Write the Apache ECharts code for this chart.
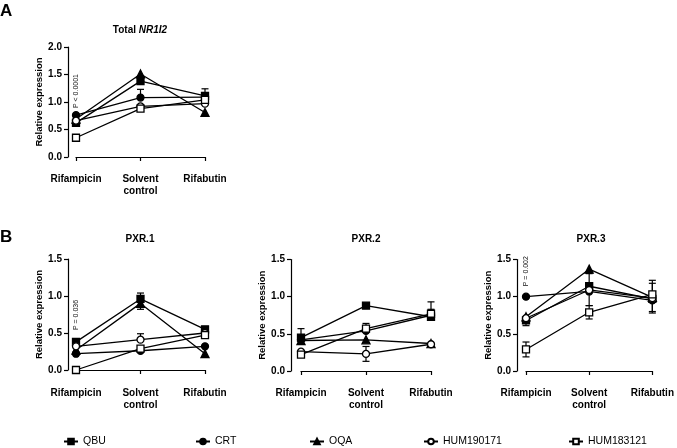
<!DOCTYPE html>
<html>
<head>
<meta charset="utf-8">
<script src="https://cdn.jsdelivr.net/npm/echarts@6/dist/echarts.min.js"></script>
<style>html,body{margin:0;padding:0;background:#fff;}#c{width:677px;height:448px;}</style>
</head>
<body>
<div id="c"></div>
<script>
// ---- data ----
const categories = ['Rifampicin', 'Solvent\ncontrol', 'Rifabutin'];
const seriesNames = ['QBU', 'CRT', 'OQA', 'HUM190171', 'HUM183121'];
const yTicksTotal = [0, 0.5, 1.0, 1.5, 2.0];
const yTicksPXR = [0, 0.5, 1.0, 1.5];

const totalQBU = [0.62, 1.38, 1.11];
const totalCRT = [0.76, 1.08, 1.09];
const totalOQA = [0.69, 1.51, 0.81];
const totalHUM190171 = [0.66, 0.92, 0.97];
const totalHUM183121 = [0.35, 0.88, 1.04];

const pxr1QBU = [0.38, 0.96, 0.55];
const pxr1CRT = [0.22, 0.26, 0.32];
const pxr1OQA = [0.27, 0.90, 0.22];
const pxr1HUM190171 = [0.32, 0.41, 0.50];
const pxr1HUM183121 = [0.00, 0.29, 0.47];

const pxr2QBU = [0.45, 0.88, 0.73];
const pxr2CRT = [0.42, 0.54, 0.75];
const pxr2OQA = [0.41, 0.42, 0.37];
const pxr2HUM190171 = [0.26, 0.23, 0.36];
const pxr2HUM183121 = [0.22, 0.57, 0.77];

const pxr3QBU = [0.68, 1.14, 0.97];
const pxr3CRT = [1.00, 1.07, 0.95];
const pxr3OQA = [0.73, 1.37, 0.99];
const pxr3HUM190171 = [0.71, 1.09, 0.98];
const pxr3HUM183121 = [0.29, 0.79, 1.03];

// error bars: [category index, from value, to value (capped end)]
const errTotal = [[1, 1.08, 1.23], [2, 1.11, 1.24]];
const errPXR1 = [[1, 0.96, 1.04], [1, 0.90, 0.82], [1, 0.41, 0.49]];
const errPXR2 = [[0, 0.45, 0.57], [1, 0.57, 0.64], [1, 0.23, 0.13], [1, 0.23, 0.33], [2, 0.77, 0.93], [2, 0.75, 0.83]];
const errPXR3 = [[0, 0.68, 0.61], [0, 0.29, 0.39], [0, 0.29, 0.19], [1, 1.14, 1.31], [1, 1.07, 0.88],
                 [1, 0.79, 0.88], [1, 0.79, 0.70], [2, 1.03, 1.22], [2, 0.99, 1.18], [2, 0.97, 0.80], [2, 0.95, 0.78]];

// p-value annotations: [text, start value at Rifampicin]
const pTotal = ['P < 0.0001', 0.89];
const pPXR1 = ['P = 0.036', 0.54];
const pPXR3 = ['P = 0.002', 1.14];

// ---- styling ----
const FONT = '"Liberation Sans", Arial, sans-serif';
const symbolStyles = {
  QBU: { symbol: 'rect', size: 7, fill: '#000' },
  CRT: { symbol: 'circle', size: 7, fill: '#000' },
  OQA: { symbol: 'triangle', size: 8, fill: '#000' },
  HUM190171: { symbol: 'circle', size: 7, fill: '#fff' },
  HUM183121: { symbol: 'rect', size: 7, fill: '#fff' }
};

const panels = [
  { grid: { left: 76, top: 47, width: 129, height: 110 }, yOff: 8, xOff: 9, max: 2, ticks: yTicksTotal,
    data: [totalQBU, totalCRT, totalOQA, totalHUM190171, totalHUM183121], err: errTotal, p: pTotal },
  { grid: { left: 76, top: 259, width: 129, height: 111 }, yOff: 8, xOff: 10, max: 1.5, ticks: yTicksPXR,
    data: [pxr1QBU, pxr1CRT, pxr1OQA, pxr1HUM190171, pxr1HUM183121], err: errPXR1, p: pPXR1 },
  { grid: { left: 301, top: 259.5, width: 130, height: 111.5 }, yOff: 10, xOff: 9, max: 1.5, ticks: yTicksPXR,
    data: [pxr2QBU, pxr2CRT, pxr2OQA, pxr2HUM190171, pxr2HUM183121], err: errPXR2, p: null },
  { grid: { left: 526, top: 259.5, width: 130, height: 111.5 }, yOff: 9, xOff: 9, max: 1.5, ticks: yTicksPXR,
    data: [pxr3QBU, pxr3CRT, pxr3OQA, pxr3HUM190171, pxr3HUM183121], err: errPXR3, p: pPXR3 }
];

function renderErr(params, api) {
  const x = api.value(0), a = api.value(1), b = api.value(2);
  const p0 = api.coord([x, a]);
  const p1 = api.coord([x, b]);
  const st = { stroke: '#000', lineWidth: 1.2 };
  return { type: 'group', children: [
    { type: 'line', shape: { x1: p0[0], y1: p0[1], x2: p1[0], y2: p1[1] }, style: st },
    { type: 'line', shape: { x1: p1[0] - 3.5, y1: p1[1], x2: p1[0] + 3.5, y2: p1[1] }, style: st }
  ] };
}

const grids = [], xAxes = [], yAxes = [], series = [];
panels.forEach((pn, i) => {
  grids.push(Object.assign({ containLabel: false }, pn.grid));
  xAxes.push({
    type: 'category', gridIndex: i, data: categories, boundaryGap: false, offset: pn.xOff,
    axisLine: { lineStyle: { color: '#000', width: 1.2 } },
    axisTick: { length: 4, lineStyle: { color: '#000', width: 1.2 } },
    axisLabel: { color: '#000', fontWeight: 'bold', fontSize: 10, fontFamily: FONT, margin: 7, lineHeight: 12, interval: 0 },
    splitLine: { show: false }
  });
  yAxes.push({
    type: 'value', gridIndex: i, min: 0, max: pn.max, interval: 0.5, offset: pn.yOff,
    name: 'Relative expression', nameLocation: 'middle', nameGap: 18,
    nameTextStyle: { color: '#000', fontWeight: 'bold', fontSize: 9.5, fontFamily: FONT },
    axisLine: { show: true, lineStyle: { color: '#000', width: 1.2 } },
    axisTick: { show: true, length: 4, lineStyle: { color: '#000', width: 1.2 } },
    axisLabel: { color: '#000', fontWeight: 'bold', fontSize: 10, fontFamily: FONT, margin: 6,
                 formatter: v => v.toFixed(1) },
    splitLine: { show: false }
  });
  seriesNames.forEach((nm, k) => {
    const s = symbolStyles[nm];
    const ser = {
      type: 'line', name: nm, xAxisIndex: i, yAxisIndex: i, data: pn.data[k],
      symbol: s.symbol, symbolSize: s.size, showAllSymbol: true,
      lineStyle: { color: '#000', width: 1.3 },
      itemStyle: { color: s.fill, borderColor: '#000', borderWidth: 1.3 },
      emphasis: { disabled: true }, animation: false, z: 3
    };
    if (k === 0 && pn.p) {
      ser.markPoint = {
        symbol: 'circle', symbolSize: 0, silent: true, animation: false,
        itemStyle: { color: 'transparent', borderWidth: 0 },
        data: [{ coord: [0, pn.p[1]], value: 0 }],
        label: { show: true, formatter: pn.p[0], rotate: 90, position: 'inside', align: 'left',
                 verticalAlign: 'middle', color: '#111', fontSize: 7, fontFamily: FONT }
      };
    }
    series.push(ser);
  });
  series.push({
    type: 'custom', name: 'err' + i, xAxisIndex: i, yAxisIndex: i, data: pn.err,
    renderItem: renderErr, encode: { x: 0, y: [1, 2] }, z: 2, silent: true, animation: false, clip: false
  });
});

const legendCenters = [70, 202, 316, 430, 575];
const legends = seriesNames.map((nm, k) => ({
  data: [nm], left: legendCenters[k] - 7, top: 436, padding: 0, itemWidth: 14, itemHeight: 7, itemGap: 6,
  textStyle: { color: '#000', fontSize: 10.5, fontFamily: FONT }, selectedMode: false
}));

const titleStyle = { fill: '#000', font: 'bold 10px ' + FONT, textAlign: 'center', textVerticalAlign: 'middle' };
const chart = echarts.init(document.getElementById('c'), null, { renderer: 'canvas' });
chart.setOption({
  backgroundColor: '#fff',
  animation: false,
  grid: grids, xAxis: xAxes, yAxis: yAxes, series: series, legend: legends,
  graphic: [
    { type: 'text', left: 0, top: 3, style: { text: 'A', fill: '#000', font: 'bold 17px ' + FONT } },
    { type: 'text', left: 0, top: 229, style: { text: 'B', fill: '#000', font: 'bold 17px ' + FONT } },
    { type: 'text', x: 140, y: 30, style: { text: '{b|Total }{i|NR1I2}', textAlign: 'center', textVerticalAlign: 'middle',
        rich: { b: { fill: '#000', fontWeight: 'bold', fontSize: 10, fontFamily: FONT },
                i: { fill: '#000', fontWeight: 'bold', fontStyle: 'italic', fontSize: 10, fontFamily: FONT } } } },
    { type: 'text', x: 140, y: 239, style: Object.assign({ text: 'PXR.1' }, titleStyle) },
    { type: 'text', x: 366, y: 239, style: Object.assign({ text: 'PXR.2' }, titleStyle) },
    { type: 'text', x: 591, y: 239, style: Object.assign({ text: 'PXR.3' }, titleStyle) }
  ]
});
</script>
</body>
</html>
